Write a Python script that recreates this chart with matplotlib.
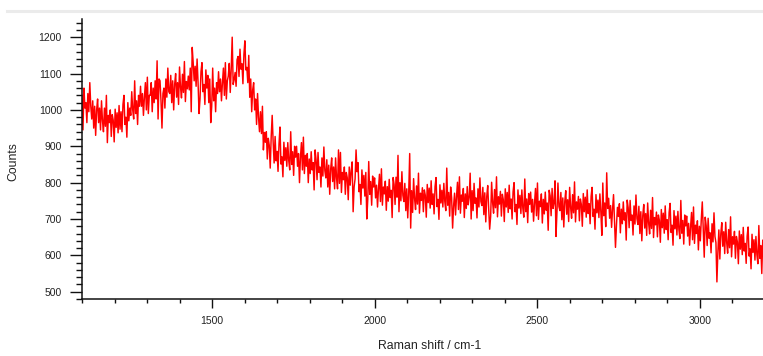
import numpy as np
import matplotlib
matplotlib.use("Agg")
import matplotlib.pyplot as plt
from matplotlib.lines import Line2D
from matplotlib.ticker import MultipleLocator

# Raman shift grid (cm-1), one reading every 3 cm-1
shift_start, shift_stop, shift_step = 1100, 3200, 3

# Detector counts, one row per 30 cm-1
counts = [
    1040, 945, 1060, 1005, 1020, 965, 1045, 995, 1075, 1010,
    975, 1025, 950, 1010, 930, 1000, 1030, 965, 1005, 945,
    1025, 970, 940, 1005, 955, 1040, 910, 985, 965, 1000,
    927, 987, 972, 912, 1002, 952, 992, 937, 1012, 947,
    995, 940, 1015, 1040, 960, 980, 925, 1020, 970, 1005,
    985, 1050, 1000, 975, 1080, 990, 1025, 960, 1040, 1010,
    1065, 1010, 1045, 985, 1035, 1075, 1000, 1090, 990, 1040,
    1040, 1075, 995, 1060, 1020, 1080, 1030, 1135, 975, 1085,
    1080, 1025, 950, 1045, 1060, 1005, 1085, 1035, 1115, 1050,
    1045, 1095, 1020, 1080, 1000, 1070, 1100, 1035, 1075, 1015,
    1118, 1063, 1033, 1098, 1048, 1133, 1023, 1078, 1058, 1093,
    1055, 1115, 995, 1172, 1130, 1080, 1120, 1065, 1140, 1075,
    990, 1030, 1105, 1130, 1050, 1070, 1015, 1110, 1060, 1095,
    1020, 1085, 965, 1010, 1115, 1025, 1060, 995, 1075, 1045,
    1105, 1050, 1085, 1025, 1075, 1115, 1040, 1130, 1030, 1080,
    1093, 1128, 1048, 1113, 1200, 1070, 1083, 1103, 1065, 1138,
    1147, 1092, 1167, 1112, 1127, 1072, 1152, 1190, 1110, 1117,
    1075, 1150, 1035, 1085, 995, 1055, 1075, 1000, 1030, 960,
    1045, 980, 940, 995, 935, 1010, 890, 938, 911, 940,
    865, 922, 903, 840, 927, 985, 911, 854, 927, 860,
    886, 831, 906, 953, 851, 871, 816, 911, 861, 896,
    845, 910, 860, 835, 940, 850, 885, 820, 900, 870,
    900, 845, 880, 800, 870, 910, 835, 925, 825, 875,
    845, 880, 800, 865, 825, 885, 835, 855, 780, 890,
    863, 808, 883, 828, 843, 788, 868, 818, 898, 833,
    813, 863, 788, 848, 768, 838, 868, 803, 843, 783,
    868, 813, 783, 890, 798, 883, 773, 828, 808, 843,
    768, 828, 813, 753, 843, 793, 833, 857, 720, 788,
    810, 890, 830, 855, 775, 795, 740, 835, 785, 820,
    763, 828, 700, 753, 858, 768, 803, 738, 818, 788,
    813, 758, 793, 733, 783, 823, 748, 838, 738, 788,
    769, 804, 724, 789, 749, 809, 759, 779, 704, 814,
    795, 740, 815, 760, 875, 720, 800, 750, 830, 765,
    748, 798, 723, 783, 703, 773, 880, 675, 778, 718,
    811, 756, 726, 791, 741, 826, 716, 771, 751, 786,
    720, 780, 765, 705, 795, 745, 785, 730, 805, 740,
    769, 714, 789, 814, 734, 754, 699, 794, 744, 779,
    733, 798, 748, 723, 840, 738, 773, 708, 788, 758,
    675, 736, 771, 711, 761, 801, 726, 816, 716, 766,
    749, 784, 704, 769, 729, 789, 739, 759, 826, 700,
    778, 723, 798, 743, 758, 703, 783, 733, 813, 748,
    737, 787, 712, 772, 692, 762, 792, 727, 672, 707,
    801, 746, 716, 781, 731, 816, 706, 761, 741, 776,
    708, 768, 753, 693, 783, 733, 773, 718, 793, 728,
    755, 700, 775, 800, 720, 740, 685, 780, 730, 765,
    715, 780, 730, 705, 810, 720, 755, 690, 770, 740,
    774, 719, 754, 694, 744, 784, 709, 799, 699, 749,
    734, 769, 689, 754, 714, 774, 724, 744, 669, 779,
    764, 709, 784, 729, 744, 805, 652, 719, 799, 734,
    723, 773, 698, 758, 678, 748, 778, 713, 753, 693,
    787, 732, 702, 767, 717, 802, 692, 747, 727, 762,
    695, 755, 740, 680, 770, 720, 760, 705, 780, 715,
    742, 687, 762, 787, 707, 727, 672, 767, 717, 752,
    704, 769, 719, 655, 799, 709, 744, 679, 827, 729,
    757, 702, 737, 677, 727, 767, 692, 622, 682, 732,
    707, 742, 662, 727, 687, 747, 697, 717, 642, 752,
    731, 676, 751, 696, 711, 656, 736, 686, 766, 701,
    685, 735, 660, 720, 640, 710, 740, 675, 715, 655,
    744, 689, 659, 724, 674, 759, 649, 704, 684, 719,
    651, 711, 696, 636, 726, 676, 716, 661, 736, 671,
    698, 643, 718, 743, 663, 683, 628, 723, 673, 708,
    656, 721, 671, 646, 751, 661, 696, 631, 711, 681,
    708, 653, 688, 628, 678, 718, 643, 733, 633, 683,
    660, 695, 615, 680, 640, 700, 747, 670, 595, 705,
    682, 627, 702, 647, 662, 607, 687, 637, 717, 652,
    635, 527, 610, 670, 590, 660, 690, 625, 665, 605,
    691, 636, 606, 671, 621, 706, 596, 651, 631, 666,
    592, 652, 637, 577, 667, 617, 657, 602, 677, 612,
    633, 578, 653, 678, 598, 618, 563, 658, 608, 643,
    587, 652, 602, 577, 682, 592, 627, 550, 642, 612,
    585,
]

x_ticks = [1500, 2000, 2500, 3000]
y_ticks = [500, 600, 700, 800, 900, 1000, 1100, 1200]

shift = np.arange(shift_start, shift_stop + 1, shift_step)

plt.rcParams['font.family'] = ['Liberation Sans', 'DejaVu Sans']

W, H = 763, 356
fig = plt.figure(figsize=(W / 100, H / 100), dpi=100)
ax = fig.add_axes([82 / W, (H - 299) / H, 682.7 / W, 280 / H])

ax.plot(shift, counts, color='#ff0000', lw=1.05)

ax.set_xlim(1100, 3200)
ax.set_ylim(480, 1250)

ax.set_xticks(x_ticks)
ax.set_yticks(y_ticks)
ax.xaxis.set_minor_locator(MultipleLocator(100))
ax.yaxis.set_minor_locator(MultipleLocator(20))

for side in ('top', 'right'):
    ax.spines[side].set_visible(False)
for side in ('left', 'bottom'):
    ax.spines[side].set_linewidth(1.1)
    ax.spines[side].set_color('#111111')

ax.tick_params(axis='x', which='major', length=6.5, width=1.0, pad=5.5,
               labelsize=7.5, labelcolor='#222222', color='#111111')
ax.tick_params(axis='x', which='minor', length=3, width=1.0, color='#111111')
ax.tick_params(axis='y', which='major', length=9, width=1.0, pad=5.5,
               labelsize=7.5, labelcolor='#222222', color='#111111')
ax.tick_params(axis='y', which='minor', length=4.5, width=1.0, color='#111111')

ax.set_xlabel('Raman shift / cm-1', fontsize=8.8, color='#222222')
ax.set_ylabel('Counts', fontsize=8.8, color='#222222')
ax.xaxis.set_label_coords(0.509, -0.148)
ax.yaxis.set_label_coords(-0.091, 0.49)

# thin light rule along the top of the frame
fig.add_artist(Line2D([7 / W, 1.0], [1 - 11 / H, 1 - 11 / H],
                      transform=fig.transFigure, color='#ebebeb', lw=2.2))

fig.savefig('out.png', dpi=100)
